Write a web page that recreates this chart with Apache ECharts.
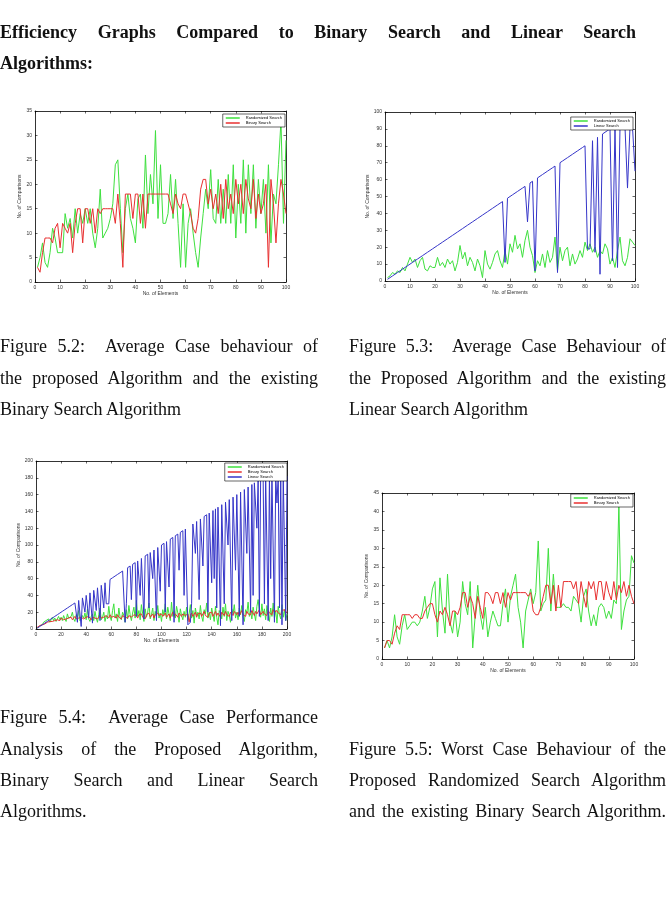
<!DOCTYPE html>
<html>
<head>
<meta charset="utf-8">
<script src="https://cdn.jsdelivr.net/npm/echarts@6/dist/echarts.min.js"></script>
<style>
  html, body { margin: 0; padding: 0; background: #fff; }
  #page { position: relative; width: 666px; height: 920px; overflow: hidden; }
  #chartMain { position: absolute; left: 0; top: 0; width: 666px; height: 920px; }
  .ln {
    position: absolute; height: 24px; line-height: 24px;
    font-family: "Liberation Serif", "DejaVu Serif", serif; font-size: 18px; color: #111;
    white-space: nowrap; z-index: 2;
  }
  .j { text-align: justify; text-align-last: justify; }
  .b { font-weight: bold; }
</style>
</head>
<body>
<div id="page">
  <div id="chartMain"></div>

  <div class="ln b j" style="left:0;width:636px;top:20px">Efficiency Graphs Compared to Binary Search and Linear Search</div>
  <div class="ln b" style="left:0;top:51px">Algorithms:</div>

  <div class="ln j" style="left:0;width:318px;top:334px">Figure 5.2:&nbsp; Average Case behaviour of</div>
  <div class="ln j" style="left:0;width:318px;top:366px">the proposed Algorithm and the existing</div>
  <div class="ln" style="left:0;top:397px">Binary Search Algorithm</div>

  <div class="ln j" style="left:349px;width:317px;top:334px">Figure 5.3:&nbsp; Average Case Behaviour of</div>
  <div class="ln j" style="left:349px;width:317px;top:366px">the Proposed Algorithm and the existing</div>
  <div class="ln" style="left:349px;top:397px">Linear Search Algorithm</div>

  <div class="ln j" style="left:0;width:318px;top:705px">Figure 5.4:&nbsp; Average Case Performance</div>
  <div class="ln j" style="left:0;width:318px;top:737px">Analysis of the Proposed Algorithm,</div>
  <div class="ln j" style="left:0;width:318px;top:768px">Binary Search and Linear Search</div>
  <div class="ln" style="left:0;top:799px">Algorithms.</div>

  <div class="ln j" style="left:349px;width:317px;top:737px">Figure 5.5: Worst Case Behaviour of the</div>
  <div class="ln j" style="left:349px;width:317px;top:768px">Proposed Randomized Search Algorithm</div>
  <div class="ln j" style="left:349px;width:317px;top:799px">and the existing Binary Search Algorithm.</div>
</div>

<script>
// Figure 5.2 - average case, randomized vs binary (x = 1..100)
const fig52Random = [3,5,8,4,3,6,11,9,6,6,
  6,14,11,13,9,15,10,14,12,15,
  12,15,10,7,11,19,9,10,11,13,
  16,24,25,15,6,15,18,13,11,8,
  17,18,11,26,14,22,16,31,13,24,
  12,12,14,22,13,21,12,3,16,3,
  12,15,10,6,3,9,14,19,15,23,
  13,12,21,12,19,12,22,12,24,9,
  20,12,25,10,24,14,24,11,21,14,
  21,10,24,8,18,16,24,33,12,29];
const fig52Binary = [3,2,6,9,9,9,8,11,12,7,
  12,11,10,12,6,12,15,15,8,15,
  15,12,15,10,15,14,15,15,15,15,
  15,12,18,12,3,18,18,18,13,18,
  18,12,18,11,18,18,18,18,18,18,
  18,18,18,16,14,18,16,15,18,18,
  16,14,11,10,13,19,21,21,16,19,
  15,18,14,20,13,21,15,18,14,21,
  16,20,14,21,17,15,21,13,18,14,
  16,20,3,21,16,8,16,21,18,14];

// Figure 5.3 - average case, randomized vs linear (x = 1..100)
const fig53Random = [2,3,5,4,6,5,8,6,10,14,
  11,13,8,12,14,7,6,9,8,8,
  14,9,11,8,13,10,12,6,11,21,
  13,17,9,14,11,6,13,9,2,18,
  10,7,11,16,18,12,8,18,10,22,
  17,27,19,22,14,24,30,20,15,5,
  12,9,16,8,18,11,14,26,6,20,
  12,18,20,9,16,10,13,18,14,23,
  18,22,17,20,14,18,16,22,19,10,
  14,8,18,26,12,9,14,25,23,21];
const fig53Linear = [1,2,3,4,5,6,7,8,9,10,
  11,12,13,14,15,16,17,18,19,20,
  21,22,23,24,25,26,27,28,29,30,
  31,32,33,34,35,36,37,38,39,40,
  41,42,43,44,45,46,47,11,49,50,
  51,52,53,54,55,56,35,58,59,6,
  61,62,63,64,65,66,67,68,5,70,
  71,72,73,74,75,76,77,78,79,80,
  19,19,83,17,85,4,87,88,89,90,
  12,91,8,91,91,91,55,91,91,65];

// Figure 5.4 - randomized, binary and linear (x = 1..200)
const fig54Random = [1,3,4,6,5,8,7,10,9,12,8,11,14,10,13,9,12,15,11,14,
  10,16,12,9,18,13,11,15,20,12,9,17,14,22,10,8,16,13,19,11,
  24,12,9,15,18,10,21,13,8,17,25,11,14,20,9,16,12,27,15,10,
  22,30,13,18,9,25,14,11,20,16,8,23,12,28,17,10,19,26,13,34,
  15,22,11,29,18,9,24,14,20,31,12,17,25,10,21,15,28,13,19,9,
  23,16,30,12,26,18,10,32,15,22,13,27,19,8,24,16,11,21,14,26,
  10,18,29,13,22,7,25,16,20,12,28,15,9,23,18,31,13,20,11,25,
  17,9,27,14,5,22,19,12,26,15,30,10,21,16,8,24,18,29,13,20,
  11,25,17,28,14,9,23,19,32,15,21,12,26,18,10,27,35,22,14,30,
  16,24,11,28,19,9,25,15,31,13,22,7,27,17,12,29,14,23,10,18];
const fig54Binary = [2,3,4,4,5,6,6,7,8,8,9,10,9,11,10,12,11,12,10,13,
  12,11,13,12,14,13,12,14,11,13,15,12,14,13,11,14,15,12,13,14,
  12,15,13,11,14,16,13,15,12,14,16,13,15,14,12,16,15,13,17,14,
  12,15,16,13,17,14,15,12,16,17,14,15,13,16,18,14,12,17,15,16,
  13,17,15,18,14,16,12,17,15,19,14,16,18,13,17,15,19,16,14,18,
  15,17,19,14,16,18,13,17,20,15,18,16,14,19,17,15,18,20,16,14,
  18,8,16,19,15,17,20,14,18,16,19,15,17,21,16,18,14,19,17,20,
  15,18,21,16,19,17,14,20,18,16,21,17,19,15,20,18,16,21,19,17,
  20,16,18,22,17,19,15,21,18,20,17,22,19,16,21,18,20,23,17,19,
  21,18,20,16,22,19,21,17,23,20,18,22,19,21,17,22,20,23,19,21];
const fig54Linear = [1,2,3,4,5,6,7,8,9,10,11,12,13,14,15,16,17,18,19,20,
  21,22,23,24,25,26,27,28,29,30,31,32,8,34,35,3,37,38,20,40,
  41,13,43,44,7,46,47,22,49,50,10,52,53,25,55,30,30,30,59,60,
  61,62,63,64,65,66,67,68,69,70,8,30,73,74,75,35,77,78,79,15,
  81,82,40,84,85,12,87,88,89,25,91,92,60,94,95,10,97,98,45,100,
  101,102,20,104,105,50,107,108,109,8,111,112,113,70,115,116,117,40,119,120,
  5,5,8,30,125,126,90,128,129,35,131,132,75,134,135,136,20,138,139,55,
  141,60,143,25,145,146,4,148,149,30,151,152,100,154,155,10,157,158,70,160,
  161,15,163,164,5,166,167,90,169,170,20,172,40,174,175,120,177,15,179,180,
  181,30,182,182,10,182,60,182,182,8,182,150,182,25,182,5,182,100,10,182];

// Figure 5.5 - worst case, randomized vs binary (x = 1..100)
const fig55Random = [3,5,3,6,12,6,4,9,12,8,
  9,10,10,9,10,13,17,11,14,19,
  21,6,22,13,7,23,10,7,13,6,
  10,21,15,12,21,3,12,20,12,8,
  14,6,10,13,11,9,9,15,19,10,
  17,20,23,14,10,3,13,16,19,15,
  18,32,13,15,16,30,13,23,14,14,
  14,15,14,14,13,17,16,15,10,17,
  19,13,9,12,9,14,15,14,11,13,
  11,16,15,42,8,13,16,17,28,26];
const fig55Binary = [3,5,5,4,7,9,8,12,12,12,
  12,11,12,12,11,11,13,14,15,15,
  12,10,13,12,14,12,9,13,13,12,
  14,18,18,14,17,15,11,17,14,11,
  18,18,17,15,18,18,15,18,14,18,
  16,18,18,18,18,18,18,17,18,13,
  12,12,14,17,20,20,15,20,13,20,
  14,21,21,21,21,19,21,15,21,17,
  14,21,19,21,16,21,21,16,21,18,
  16,21,16,20,18,21,17,20,17,15];

const GREEN = '#3ee03e';
const RED = '#e83030';
const BLUE = '#3535c8';

const toPts = arr => arr.map((v, i) => [i + 1, v]);

// grid boxes (px)
const grids = [
  { left: 35, top: 111, width: 251, height: 171 },
  { left: 385, top: 112, width: 250, height: 169 },
  { left: 36, top: 461, width: 251, height: 168 },
  { left: 382, top: 493, width: 252, height: 166 }
];
// x max / step, y max / step for each figure
const scales = [
  [100, 10, 35, 5],
  [100, 10, 100, 10],
  [200, 20, 200, 20],
  [100, 10, 45, 5]
];

const xAxes = [];
const yAxes = [];
scales.forEach((s, gi) => {
  const line = { show: true, onZero: false, lineStyle: { color: '#000', width: 0.8 } };
  const tick = { show: true, inside: true, length: 2.5, lineStyle: { color: '#000', width: 0.6 } };
  xAxes.push({
    type: 'value', gridIndex: gi, position: 'bottom', min: 0, max: s[0], interval: s[1],
    axisLine: line, axisTick: tick, splitLine: { show: false },
    axisLabel: { fontSize: 5, color: '#333', margin: 3, fontFamily: 'Liberation Sans' },
    name: 'No. of Elements', nameLocation: 'middle', nameGap: 9,
    nameTextStyle: { fontSize: 5, color: '#333', fontFamily: 'Liberation Sans' }
  });
  xAxes.push({
    type: 'value', gridIndex: gi, position: 'top', min: 0, max: s[0], interval: s[1],
    axisLine: line, axisTick: tick, axisLabel: { show: false }, splitLine: { show: false }
  });
  yAxes.push({
    type: 'value', gridIndex: gi, position: 'left', min: 0, max: s[2], interval: s[3],
    axisLine: line, axisTick: tick, splitLine: { show: false },
    axisLabel: { fontSize: 5, color: '#333', margin: 3, fontFamily: 'Liberation Sans' },
    name: 'No. of Comparisons', nameLocation: 'middle', nameGap: 12, nameRotate: 90,
    nameTextStyle: { fontSize: 5, color: '#333', fontFamily: 'Liberation Sans' }
  });
  yAxes.push({
    type: 'value', gridIndex: gi, position: 'right', min: 0, max: s[2], interval: s[3],
    axisLine: line, axisTick: tick, axisLabel: { show: false }, splitLine: { show: false }
  });
});

function lineSeries(name, data, color, gi) {
  return {
    name: name, type: 'line', data: toPts(data),
    xAxisIndex: gi * 2, yAxisIndex: gi * 2,
    showSymbol: false, symbol: 'none', animation: false,
    lineStyle: { color: color, width: 1 },
    itemStyle: { color: color }
  };
}

function legendFor(names, right, top) {
  return {
    data: names, orient: 'vertical', right: right, top: top,
    backgroundColor: '#fff', borderColor: '#000', borderWidth: 0.6,
    padding: [2, 3, 2, 3], itemGap: 1, itemWidth: 14, itemHeight: 1.5,
    icon: 'rect', selectedMode: false,
    textStyle: { fontSize: 4, color: '#000', fontFamily: 'Liberation Sans', padding: [0, 0, 0, 1] }
  };
}

const myChart = echarts.init(document.getElementById('chartMain'));
const option = {
  backgroundColor: '#fff',
  animation: false,
  grid: grids,
  xAxis: xAxes,
  yAxis: yAxes,
  legend: [
    legendFor(['Randomized Search', 'Binary Search'], 381, 114),
    legendFor(['Randomized Search', 'Linear Search'], 33, 117),
    legendFor(['Randomized Search', 'Binary Search', 'Linear Search'], 379, 463),
    legendFor(['Randomized Search', 'Binary Search'], 33, 494)
  ],
  series: [
    lineSeries('Randomized Search', fig52Random, GREEN, 0),
    lineSeries('Binary Search', fig52Binary, RED, 0),
    lineSeries('Randomized Search', fig53Random, GREEN, 1),
    lineSeries('Linear Search', fig53Linear, BLUE, 1),
    lineSeries('Randomized Search', fig54Random, GREEN, 2),
    lineSeries('Binary Search', fig54Binary, RED, 2),
    lineSeries('Linear Search', fig54Linear, BLUE, 2),
    lineSeries('Randomized Search', fig55Random, GREEN, 3),
    lineSeries('Binary Search', fig55Binary, RED, 3)
  ]
};
myChart.setOption(option);
</script>
</body>
</html>
